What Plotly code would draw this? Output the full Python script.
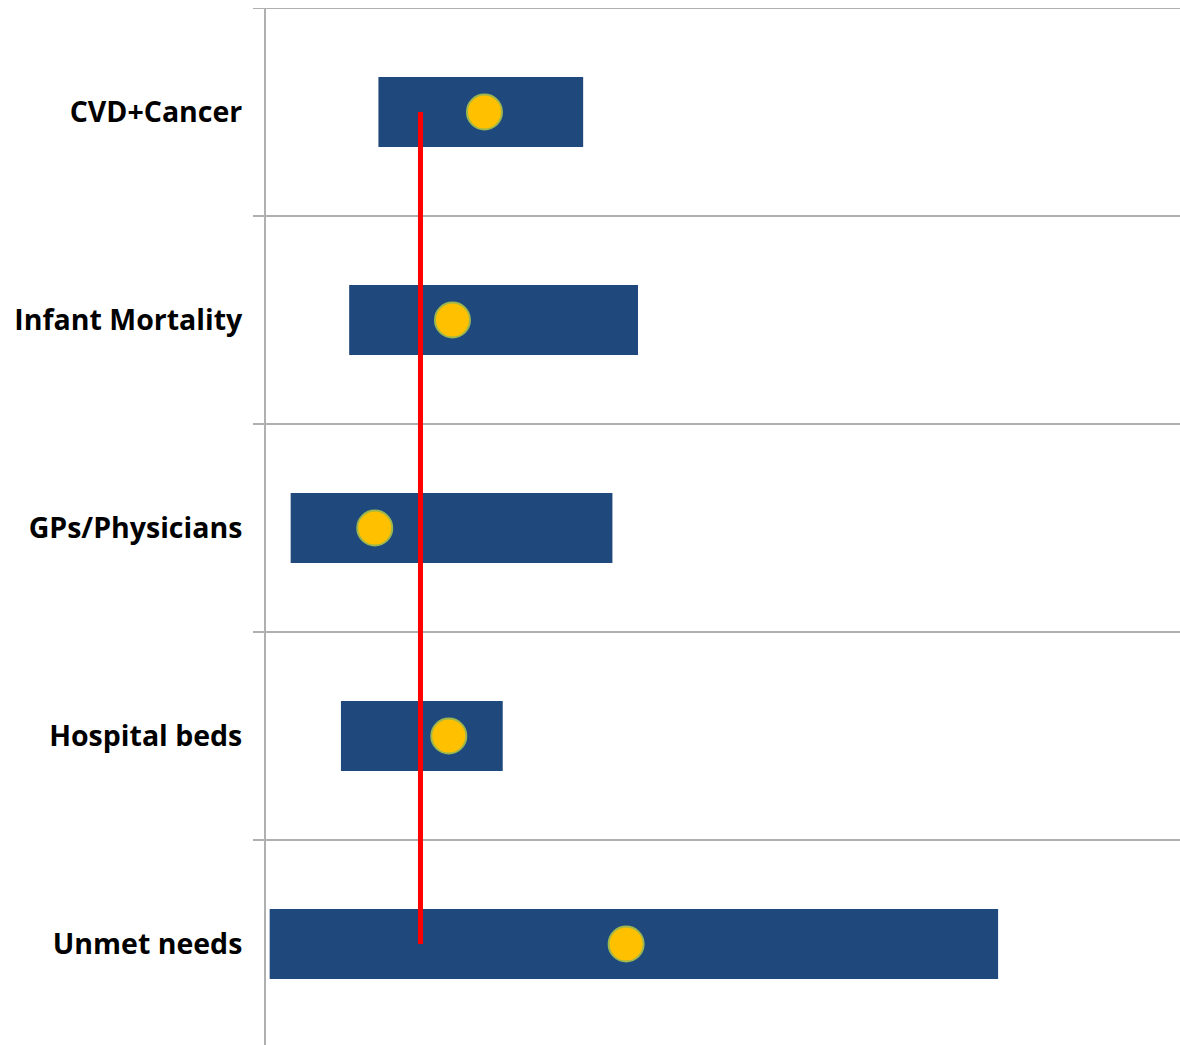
import plotly.graph_objects as go

# Indicator ranges (low/high), the point estimate and the reference level
categories = ["CVD+Cancer", "Infant Mortality", "GPs/Physicians", "Hospital beds", "Unmet needs"]
range_low = [12.3, 9.1, 2.7, 8.2, 0.4]
range_high = [34.7, 40.7, 37.9, 25.9, 80.1]
point_value = [23.9, 20.4, 11.9, 20.0, 39.4]
reference_value = 16.9

W, H = 1180, 1045
ML, MT = 266, 8
positions = list(range(len(categories)))
spacing_px = 208
span = (H - MT) / spacing_px

fig = go.Figure()

fig.add_trace(go.Bar(
    y=positions,
    x=[h - l for l, h in zip(range_low, range_high)],
    base=range_low,
    orientation="h",
    width=0.337,
    marker=dict(color="#1F497C", line=dict(width=0)),
    hoverinfo="skip",
))

fig.add_trace(go.Scatter(
    x=[reference_value, reference_value],
    y=[positions[0], positions[-1]],
    mode="lines",
    line=dict(color="#FF0000", width=5),
    hoverinfo="skip",
))

fig.add_trace(go.Scatter(
    x=point_value,
    y=positions,
    mode="markers",
    marker=dict(size=35, color="#FFC000", line=dict(color="#9DB74E", width=2)),
    hoverinfo="skip",
))

# Horizontal separators between categories, with short outside ticks
shapes = []
for k in range(len(categories)):
    shapes.append(dict(
        type="line", xref="paper", yref="y",
        x0=-13 / (W - ML), x1=1, y0=k - 0.5, y1=k - 0.5,
        line=dict(color="#B0B0B0", width=2), layer="below",
    ))

fig.update_layout(
    width=W, height=H,
    margin=dict(l=ML, r=0, t=MT, b=0, pad=0),
    plot_bgcolor="white", paper_bgcolor="white",
    showlegend=False,
    shapes=shapes,
    xaxis=dict(range=[0, 100], showgrid=False, zeroline=False,
               showticklabels=False, ticks="", showline=False, fixedrange=True),
    yaxis=dict(
        range=[-0.5 + span, -0.5],
        tickmode="array", tickvals=positions, ticktext=categories,
        tickfont=dict(family="Open Sans", size=28.5, color="#000000", weight="bold"),
        ticks="", ticklabelstandoff=16,
        showgrid=False, zeroline=False,
        showline=True, linecolor="#B0B0B0", linewidth=2,
        fixedrange=True,
    ),
)

fig.write_html("out.html")
